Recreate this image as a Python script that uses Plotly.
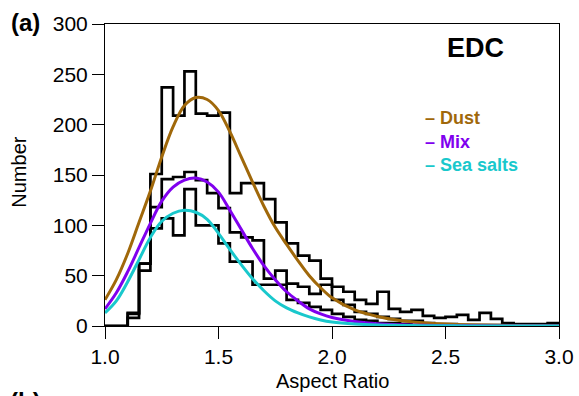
import numpy as np
import plotly.graph_objects as go

# ---- data ----
bin_width = 0.05
bin_left = [round(1.00 + bin_width * i, 2) for i in range(40)]

dust_counts = [0, 0, 13, 62, 151, 237, 209, 253, 211, 209,
               212, 132, 142, 142, 126, 103, 82, 70, 65, 47,
               39, 34, 26, 22, 34, 17, 14, 16, 10, 8,
               9, 11, 6, 13, 7, 3, 2, 2, 2, 3]
mix_counts = [0, 0, 12, 62, 118, 146, 148, 153, 145, 132,
              117, 93, 88, 85, 47, 55, 42, 39, 32, 41,
              26, 21, 14, 12, 9, 7, 5, 5, 3, 2,
              2, 1, 1, 1, 1, 1, 0, 1, 0, 1]
sea_counts = [0, 0, 8, 55, 97, 107, 90, 136, 100, 100,
              82, 64, 64, 41, 41, 41, 26, 23, 19, 16,
              12, 9, 6, 5, 3, 3, 2, 1, 1, 1,
              0, 0, 0, 0, 0, 0, 0, 0, 0, 0]

# fitted curves
curve_x = [1.00, 1.05, 1.10, 1.15, 1.20, 1.25, 1.30, 1.35, 1.40, 1.45,
           1.50, 1.55, 1.60, 1.65, 1.70, 1.75, 1.80, 1.85, 1.90, 1.95,
           2.00, 2.10, 2.20, 2.30, 2.40, 2.50, 2.60, 2.80, 3.00]
dust_fit = [26, 46, 72, 103, 134, 168, 198, 219, 227, 225,
            214, 193, 168, 143, 119, 98, 81, 65, 50, 38,
            28, 16, 9.5, 5.5, 3.3, 2, 1.2, 0.5, 0.2]
mix_fit = [17, 33, 54, 78, 102, 124, 138, 145, 147, 143,
           133, 115, 96, 77, 60, 46, 34, 25, 17, 12,
           8.5, 4.5, 2.2, 1.2, 0.7, 0.4, 0.2, 0.1, 0.05]
sea_fit = [13, 25, 44, 66, 88, 104, 112, 115, 113, 106,
           92, 76, 61, 47, 35, 25, 18, 13, 9, 6,
           4, 2, 1, 0.6, 0.3, 0.15, 0.1, 0.05, 0]

series_names = ["Dust", "Mix", "Sea salts"]
series_colors = ["#A0680A", "#8000EE", "#19C8CC"]

FONT = "Liberation Sans, Arial, Helvetica, sans-serif"

fig = go.Figure()

# histograms as step outlines
for counts in (dust_counts, mix_counts, sea_counts):
    xs = bin_left + [round(bin_left[-1] + bin_width, 2)]
    ys = counts + [counts[-1]]
    fig.add_trace(go.Scatter(x=xs, y=ys, mode="lines", line_shape="hv",
                             line=dict(color="black", width=2.7),
                             showlegend=False, hoverinfo="skip"))

# fitted curves
for fit, name, col in zip((dust_fit, mix_fit, sea_fit), series_names, series_colors):
    fig.add_trace(go.Scatter(x=curve_x, y=fit, mode="lines", name=name,
                             line=dict(color=col, width=3, shape="spline", smoothing=1.0),
                             showlegend=False))

annotations = [
    dict(text="<b>(a)</b>", x=-0.176, y=1.006, font=dict(size=24)),
    dict(text="<b>(b)</b>", x=-0.176, y=-0.25, font=dict(size=24)),
    dict(text="<b>EDC</b>", x=0.817, y=0.92, font=dict(size=27)),
    dict(text="Number", x=-0.19, y=0.51, textangle=-90, font=dict(size=20)),
    dict(text="Aspect Ratio", x=0.502, y=-0.182, font=dict(size=20)),
]
legend_y = [0.689, 0.609, 0.533]
for name, col, ly in zip(series_names, series_colors, legend_y):
    annotations.append(dict(text="<b>\u2013 " + name + "</b>", x=0.70, y=ly,
                            xanchor="left", font=dict(size=18, color=col)))
for a in annotations:
    a.setdefault("xanchor", "center")
    a.update(xref="paper", yref="paper", yanchor="middle", showarrow=False)
    a["font"].setdefault("color", "black")
    a["font"]["family"] = FONT

fig.update_layout(
    width=579, height=396,
    margin=dict(l=105, r=20, t=24, b=70, autoexpand=False),
    paper_bgcolor="white", plot_bgcolor="white",
    font=dict(family=FONT, size=21, color="black"),
    annotations=annotations,
    showlegend=False,
)
fig.update_xaxes(range=[1.0, 3.0], tickvals=[1.0, 1.5, 2.0, 2.5, 3.0],
                 ticktext=["1.0", "1.5", "2.0", "2.5", "3.0"],
                 ticks="outside", ticklen=12, tickwidth=1, tickcolor="black",
                 showline=True, linecolor="black", linewidth=1, mirror=True,
                 showgrid=False, zeroline=False, tickfont=dict(size=21),
                 automargin=False)
fig.update_yaxes(range=[0, 300], tickvals=[0, 50, 100, 150, 200, 250, 300],
                 ticks="outside", ticklen=12, tickwidth=1, tickcolor="black",
                 showline=True, linecolor="black", linewidth=1, mirror=True,
                 showgrid=False, zeroline=False, tickfont=dict(size=21),
                 automargin=False)

fig.write_html("out.html")
